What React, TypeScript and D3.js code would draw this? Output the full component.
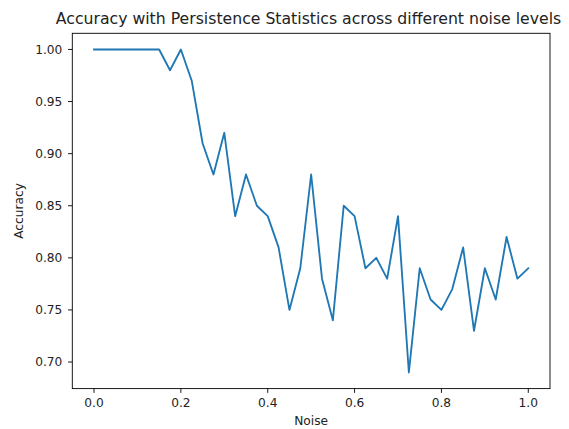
import { useMemo } from 'react';
import * as d3 from 'd3';

const noise = d3.range(41).map((i) => i * 0.025);
const accuracy = [
  1.0, 1.0, 1.0, 1.0, 1.0, 1.0, 1.0, 0.98, 1.0, 0.97,
  0.91, 0.88, 0.92, 0.84, 0.88, 0.85, 0.84, 0.81, 0.75, 0.79,
  0.88, 0.78, 0.74, 0.85, 0.84, 0.79, 0.8, 0.78, 0.84, 0.69,
  0.79, 0.76, 0.75, 0.77, 0.81, 0.73, 0.79, 0.76, 0.82, 0.78,
  0.79,
];
const xTickValues = [0, 0.2, 0.4, 0.6, 0.8, 1.0];
const yTickValues = [0.7, 0.75, 0.8, 0.85, 0.9, 0.95, 1.0];

const W = 569;
const H = 429;
const left = 72.3;
const right = 550;
const top = 33.3;
const bottom = 388.6;
const font = 'DejaVu Sans, sans-serif';
const tickSize = 12.2;

const App = () => {
  // matplotlib-like 5% margins
  const xScale = useMemo(() => {
    const pad = 0.05 * 1;
    return d3.scaleLinear().domain([0 - pad, 1 + pad]).range([left, right]);
  }, []);
  const yScale = useMemo(() => {
    const lo = d3.min(accuracy) as number;
    const hi = d3.max(accuracy) as number;
    const pad = (hi - lo) * 0.05;
    return d3.scaleLinear().domain([lo - pad, hi + pad]).range([bottom, top]);
  }, []);

  const linePath = useMemo(() => {
    const gen = d3.line<number>()
      .x((_, i) => xScale(noise[i]))
      .y((d) => yScale(d));
    return gen(accuracy) || undefined;
  }, [xScale, yScale]);

  return (
    <svg width={W} height={H} style={{ position: 'absolute', left: 0, top: 0 }}>
      <rect x={0} y={0} width={W} height={H} fill="white" />

      {/* line */}
      <path d={linePath} fill="none" stroke="#1f77b4" strokeWidth={1.85}
        strokeLinejoin="round" strokeLinecap="square" />

      {/* frame */}
      <rect x={left} y={top} width={right - left} height={bottom - top}
        fill="none" stroke="black" strokeWidth={0.9} />

      {/* x ticks */}
      {xTickValues.map((v) => (
        <g key={v} transform={`translate(${xScale(v)}, ${bottom})`}>
          <line y2={4.3} stroke="black" strokeWidth={0.9} />
          <text y={18.6} textAnchor="middle" fontFamily={font} fontSize={tickSize} fill="#222">
            {v.toFixed(1)}
          </text>
        </g>
      ))}

      {/* y ticks */}
      {yTickValues.map((v) => (
        <g key={v} transform={`translate(${left}, ${yScale(v)})`}>
          <line x2={-4.3} stroke="black" strokeWidth={0.9} />
          <text x={-10} dy="0.35em" textAnchor="end" fontFamily={font} fontSize={tickSize} fill="#222">
            {v.toFixed(2)}
          </text>
        </g>
      ))}

      {/* labels */}
      <text x={(left + right) / 2} y={425} textAnchor="middle" fontFamily={font} fontSize={tickSize} fill="#222">
        Noise
      </text>
      <text transform={`translate(23, ${(top + bottom) / 2}) rotate(-90)`} textAnchor="middle"
        fontFamily={font} fontSize={tickSize} fill="#222">
        Accuracy
      </text>
      <text x={308.5} y={24} textAnchor="middle" fontFamily={font} fontSize={15.7} fill="#222">
        Accuracy with Persistence Statistics across different noise levels
      </text>
    </svg>
  );
};

export default App;
